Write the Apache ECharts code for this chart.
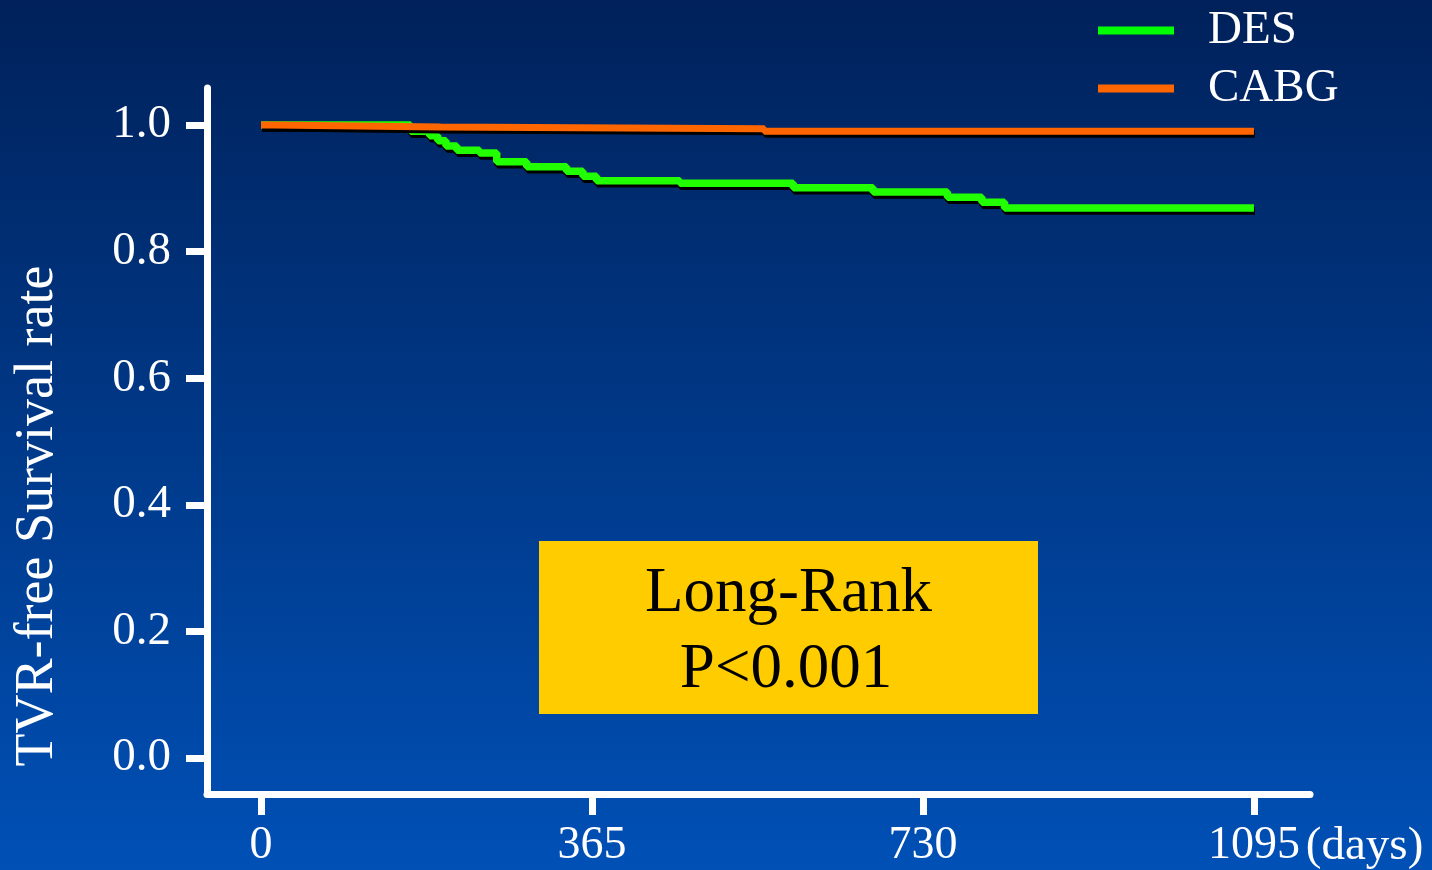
<!DOCTYPE html>
<html>
<head>
<meta charset="utf-8">
<script src="https://cdn.jsdelivr.net/npm/echarts@6/dist/echarts.min.js"></script>
<style>
  html, body { margin: 0; padding: 0; background: #002a6a; }
  #chart { width: 1432px; height: 870px; }
</style>
</head>
<body>
<div id="chart"></div>
<script>
// ---- data ----
const xTicks = [0, 365, 730, 1095];
const yTicks = [0, 0.2, 0.4, 0.6, 0.8, 1.0];

const seriesNames = ['DES', 'CABG'];

const desDays = [0, 165, 186, 195, 204, 216, 241, 260, 293, 337, 355, 370, 462, 587, 675, 757, 795, 820, 1095];
const desSurv = [1.0, 0.99, 0.983, 0.975, 0.967, 0.96, 0.956, 0.942, 0.934, 0.927, 0.919, 0.912, 0.908, 0.901, 0.894, 0.886, 0.878, 0.869, 0.869];

const cabgDays = [0, 15, 198, 555, 1095];
const cabgSurv = [1.0, 0.997, 0.994, 0.99, 0.99];

const statLines = ['Long-Rank', 'P<0.001'];
const yTitle = 'TVR-free Survival rate';
const xUnit = '(days)';

// ---- chart ----
const FONT = 'Liberation Serif';
const pair = (xs, ys) => xs.map((x, i) => [x, ys[i]]);

const chart = echarts.init(document.getElementById('chart'), null, { renderer: 'canvas' });

const lineShadow = { shadowColor: '#000', shadowBlur: 0, shadowOffsetX: 1, shadowOffsetY: 3 };

chart.setOption({
  animation: false,
  backgroundColor: {
    type: 'linear', x: 0, y: 0, x2: 0, y2: 1,
    colorStops: [
      { offset: 0, color: '#00215a' },
      { offset: 1, color: '#0050b6' }
    ]
  },
  grid: { left: 207, right: 122, top: 88, bottom: 76, containLabel: false },
  legend: {
    orient: 'vertical',
    left: 1098,
    top: 7,
    padding: 0,
    itemGap: 11,
    itemWidth: 76,
    itemHeight: 8,
    icon: 'rect',
    selectedMode: false,
    textStyle: { color: '#fff', fontFamily: FONT, fontSize: 47, padding: [0, 0, 8, 29] },
    data: [
      { name: seriesNames[0], itemStyle: { color: '#00ff00', shadowColor: 'transparent', borderWidth: 0 } },
      { name: seriesNames[1], itemStyle: { color: '#ff6600', shadowColor: 'transparent', borderWidth: 0 } }
    ]
  },
  xAxis: {
    type: 'value',
    min: -59.55,
    max: 1156.8,
    name: xUnit,
    nameLocation: 'end',
    nameGap: -7,
    nameTextStyle: { color: '#fff', fontFamily: FONT, fontSize: 47, align: 'left', verticalAlign: 'top', padding: [29, 0, 0, 0] },
    axisLine: { show: true, onZero: false, lineStyle: { color: '#fff', width: 7 } },
    axisTick: { show: true, inside: false, length: 21, customValues: xTicks, lineStyle: { color: '#fff', width: 7 } },
    axisLabel: {
      show: true, customValues: xTicks, margin: 29, color: '#fff', fontFamily: FONT, fontSize: 46,
      formatter: v => String(Math.round(v))
    },
    splitLine: { show: false }
  },
  yAxis: {
    type: 'value',
    min: -0.0569,
    max: 1.0585,
    axisLine: { show: true, onZero: false, lineStyle: { color: '#fff', width: 7 } },
    axisTick: { show: true, inside: false, length: 21, customValues: yTicks, lineStyle: { color: '#fff', width: 7 } },
    axisLabel: {
      show: true, customValues: yTicks, margin: 36, color: '#fff', fontFamily: FONT, fontSize: 47,
      formatter: v => Number(v).toFixed(1)
    },
    splitLine: { show: false }
  },
  series: [
    {
      name: seriesNames[0],
      type: 'line',
      step: 'end',
      showSymbol: false,
      symbol: 'none',
      itemStyle: { color: '#00ff00' },
      lineStyle: Object.assign({ color: '#22ff00', width: 7.5 }, lineShadow),
      data: pair(desDays, desSurv),
      z: 2
    },
    {
      name: seriesNames[1],
      type: 'line',
      step: 'end',
      showSymbol: false,
      symbol: 'none',
      itemStyle: { color: '#ff6600' },
      lineStyle: Object.assign({ color: '#ff6600', width: 7 }, lineShadow),
      data: pair(cabgDays, cabgSurv),
      z: 3
    }
  ],
  graphic: [
    {
      type: 'text',
      x: 38, y: 516,
      rotation: Math.PI / 2,
      style: { text: yTitle, fill: '#fff', font: '54px "Liberation Serif"', align: 'center', verticalAlign: 'middle' }
    },
    {
      type: 'group',
      children: [
        { type: 'rect', shape: { x: 539, y: 541, width: 499, height: 173 }, style: { fill: '#ffcc00' } },
        { type: 'text', x: 788.5, y: 594, style: { text: statLines[0], fill: '#000', font: '63px "Liberation Serif"', align: 'center', verticalAlign: 'middle' } },
        { type: 'text', x: 786, y: 670, style: { text: statLines[1], fill: '#000', font: '63px "Liberation Serif"', align: 'center', verticalAlign: 'middle' } }
      ]
    }
  ]
});
</script>
</body>
</html>
